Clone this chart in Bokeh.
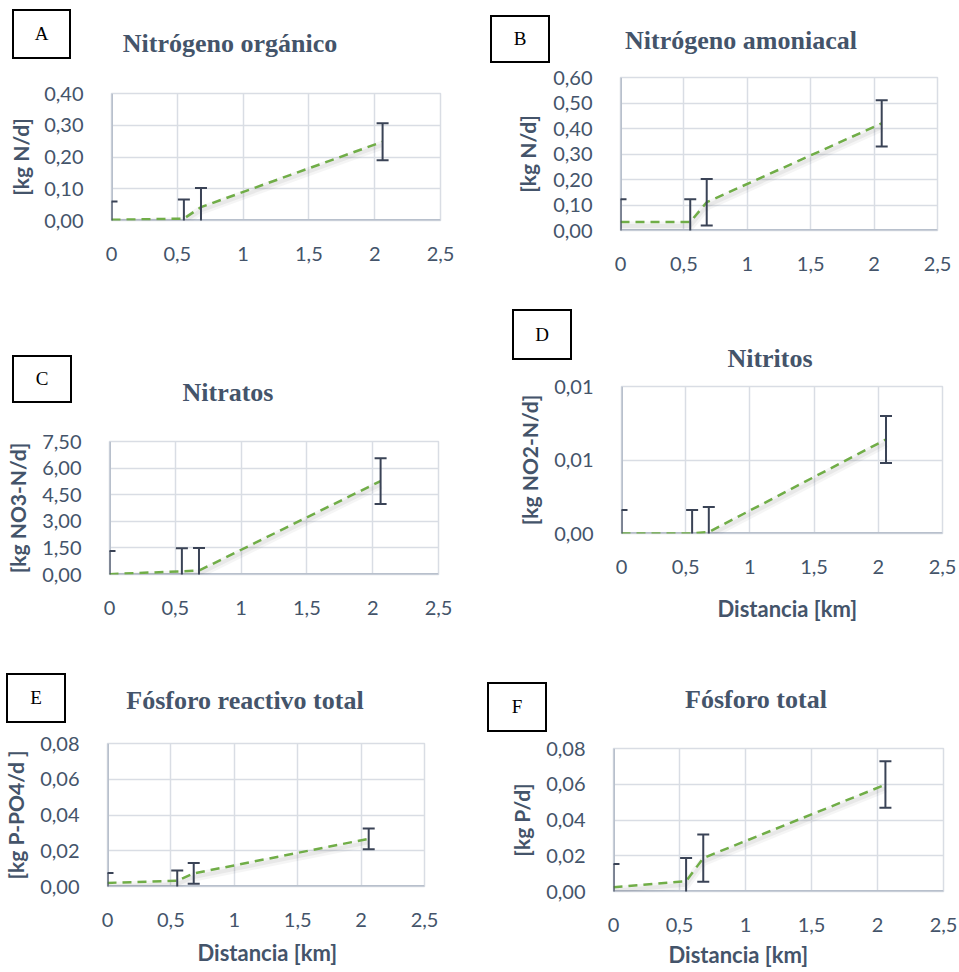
from bokeh.embed import file_html
from bokeh.layouts import column, row
from bokeh.models import (ColumnDataSource, CustomJSTickFormatter, Div, FixedTicker,
                          Range1d, Span, Title)
from bokeh.plotting import figure
from bokeh.resources import INLINE
from bokeh.transform import dodge

# Sampling points along the stream, distance from the first station [km]
dist_km = [0.0, 0.55, 0.68, 2.06]
x_ticks = [0, 0.5, 1, 1.5, 2, 2.5]

# Loads per station [kg/d] and their uncertainty (+/-)
n_org = [0.002, 0.006, 0.042, 0.248]
n_org_err = [0.058, 0.060, 0.060, 0.058]

n_amon = [0.033, 0.033, 0.111, 0.420]
n_amon_err = [0.090, 0.090, 0.091, 0.091]

nitratos = [0.02, 0.18, 0.22, 5.27]
nitratos_err = [1.30, 1.30, 1.28, 1.29]

nitritos = [0.0, 0.0, 0.0001, 0.0064]
nitritos_err = [0.0016, 0.0016, 0.0017, 0.0016]

p_reactivo = [0.0020, 0.0033, 0.0073, 0.0267]
p_reactivo_err = [0.0056, 0.0056, 0.0058, 0.0058]

p_total = [0.0024, 0.0058, 0.0187, 0.0598]
p_total_err = [0.0130, 0.0130, 0.0132, 0.0130]

# Y-axis tick positions for every panel
ticks_n_org = [0, 0.1, 0.2, 0.3, 0.4]
ticks_n_amon = [0, 0.1, 0.2, 0.3, 0.4, 0.5, 0.6]
ticks_nitratos = [0, 1.5, 3.0, 4.5, 6.0, 7.5]
ticks_nitritos = [0, 0.005, 0.01]
ticks_p = [0, 0.02, 0.04, 0.06, 0.08]

TEXT = "#44546A"
GRID = "#D9DDE4"
AXIS = "#B8C0CC"
ERR = "#3A4356"
GREEN = "#70AD47"
SANS = "Lato"
SERIF = "Liberation Serif"


def header(letter, title, w, h, box, title_xy):
    """Strip above a chart: framed panel letter plus the chart title."""
    bx, by, bw, bh = box
    tx, ty = title_xy
    serif = "font-family:'Liberation Serif',serif;"
    html = (
        f'<div style="position:relative;width:{w}px;height:{h}px;overflow:hidden;'
        f'background:white;">'
        f'<div style="position:absolute;left:{bx}px;top:{by}px;width:{bw}px;'
        f'height:{bh}px;box-sizing:border-box;border:2px solid #000;display:flex;'
        f'align-items:center;justify-content:center;{serif}font-size:19px;'
        f'color:#000;">{letter}</div>'
        f'<div style="position:absolute;left:{tx - 200}px;top:{ty - 21.8}px;'
        f'width:400px;text-align:center;{serif}font-weight:bold;font-size:26px;'
        f'line-height:26px;color:{TEXT};white-space:nowrap;">{title}</div>'
        '</div>'
    )
    return Div(text=html, width=w, height=h, margin=0)


def chart(ylabel, y, err, yticks, w, h, borders, ylabel_standoff, xlabel=None):
    left, right, top, bottom = borders
    p = figure(width=w, height=h,
               min_border_left=left, min_border_right=right,
               min_border_top=top, min_border_bottom=bottom,
               x_range=Range1d(0, 2.5), y_range=Range1d(0, yticks[-1]),
               output_backend="svg", toolbar_location=None, tools="")
    p.background_fill_color = "white"
    p.border_fill_color = "white"
    p.outline_line_color = GRID
    p.outline_line_width = 1.5

    # axes: no tick marks, comma decimal separator
    p.xaxis.ticker = FixedTicker(ticks=x_ticks)
    p.yaxis.ticker = FixedTicker(ticks=yticks)
    p.xaxis.formatter = CustomJSTickFormatter(code="return String(tick).replace('.', ',')")
    p.yaxis.formatter = CustomJSTickFormatter(code="return tick.toFixed(2).replace('.', ',')")
    for ax in (p.xaxis, p.yaxis):
        ax.axis_line_color = None
        ax.major_tick_line_color = None
        ax.minor_tick_line_color = None
        ax.major_label_text_font = SANS
        ax.major_label_text_font_size = "20px"
        ax.major_label_text_color = TEXT
    p.yaxis.major_label_standoff = 22
    p.xaxis.major_label_standoff = 20
    p.yaxis.axis_label = ylabel
    p.yaxis.axis_label_standoff = ylabel_standoff
    p.yaxis.axis_label_text_font = SANS
    p.yaxis.axis_label_text_font_style = "bold"
    p.yaxis.axis_label_text_font_size = "21px"
    p.yaxis.axis_label_text_color = TEXT

    p.xgrid.ticker = FixedTicker(ticks=x_ticks)
    p.ygrid.ticker = FixedTicker(ticks=yticks)
    for g in (p.xgrid, p.ygrid):
        g.grid_line_color = GRID
        g.grid_line_width = 1.5

    # axis lines painted beneath the data so the error bars stay on top
    for dim in ("height", "width"):
        p.add_layout(Span(location=0, dimension=dim, line_color=AXIS,
                          line_width=3, level="underlay"))

    lo = [v - e for v, e in zip(y, err)]
    hi = [v + e for v, e in zip(y, err)]
    src = ColumnDataSource(dict(x=dist_km, y=y, lo=lo, hi=hi))

    # soft drop shadow under the trend line
    shift = -0.025 * yticks[-1]
    p.line(x="x", y=dodge("y", shift), source=src, line_color="black",
           line_alpha=0.04, line_width=9)
    p.line(x="x", y=dodge("y", shift), source=src, line_color="black",
           line_alpha=0.05, line_width=4)
    p.line(x="x", y="y", source=src, line_color=GREEN, line_width=2.5,
           line_dash="9 6")

    # error bars
    p.segment(x0="x", y0="lo", x1="x", y1="hi", source=src,
              line_color=ERR, line_width=2)
    for key in ("lo", "hi"):
        p.scatter(x="x", y=key, source=src, marker="dash", size=12,
                  line_color=ERR, line_width=2)

    if xlabel is not None:
        offset, standoff = xlabel
        p.add_layout(Title(text="Distancia [km]", align="left", offset=offset,
                           standoff=standoff, text_font=SANS, text_font_style="bold",
                           text_font_size="22px", text_color=TEXT), "below")
    return p


def cell(letter, title, ylabel, y, err, yticks, w, h, head_h, box, title_xy,
         borders, ylabel_standoff, xlabel=None):
    top = header(letter, title, w, head_h, box, title_xy)
    body = chart(ylabel, y, err, yticks, w, h - head_h, borders, ylabel_standoff, xlabel)
    return column(top, body, spacing=0)


cA = cell("A", "Nitrógeno orgánico", "[kg N/d]", n_org, n_org_err, ticks_n_org,
          480, 300, 70, (12, 9, 59, 50), (230, 53), (111, 40, 23, 80), 8)
cB = cell("B", "Nitrógeno amoniacal", "[kg N/d]", n_amon, n_amon_err, ticks_n_amon,
          479, 300, 63, (10, 15, 60, 48), (261, 50), (140, 22, 14, 70), 10)
cC = cell("C", "Nitratos", "[kg NO3-N/d]", nitratos, nitratos_err, ticks_nitratos,
          480, 340, 120, (12, 55, 60, 48), (228, 101.7), (109, 42, 21, 66), 9)
cD = cell("D", "Nitritos", "[kg NO2-N/d]", nitritos, nitritos_err, ticks_nitritos,
          479, 340, 72, (32, 9, 60, 51), (290, 68), (141, 17, 14, 107), 9, (96, 32))
cE = cell("E", "Fósforo reactivo total", "[kg P-PO4/d ]", p_reactivo, p_reactivo_err,
          ticks_p, 480, 332, 88, (6, 33, 60, 50), (245, 70), (104, 56, 15, 84), 9, (90, 14))
cF = cell("F", "Fósforo total", "[kg P/d]", p_total, p_total_err, ticks_p,
          479, 332, 96, (7, 42, 60, 50), (276, 68.3), (133, 16, 12, 78), 9, (55, 9))

layout = column(row(cA, cB, spacing=0), row(cC, cD, spacing=0),
                row(cE, cF, spacing=0), spacing=0)

with open("out.html", "w") as f:
    f.write(file_html(layout, INLINE))
